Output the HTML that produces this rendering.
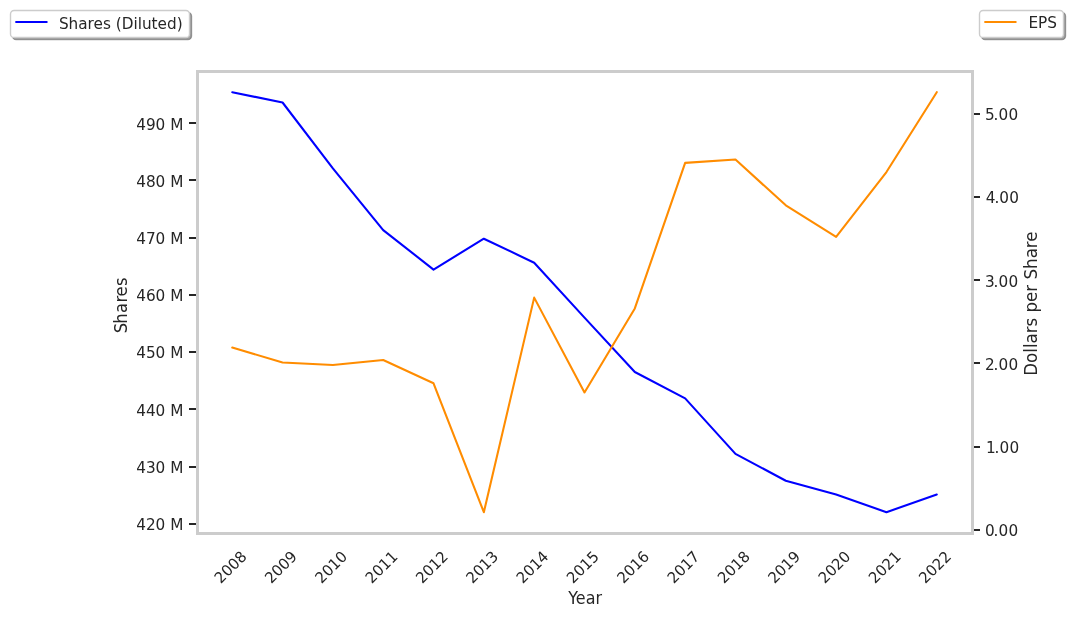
<!DOCTYPE html>
<html lang="en">
<head>
<meta charset="utf-8">
<title>Shares (Diluted) and EPS by Year</title>
<style>
html,body{margin:0;padding:0;background:#ffffff;}
body{width:1072px;height:618px;overflow:hidden;font-family:"DejaVu Sans","Liberation Sans",sans-serif;}
svg{display:block;}
</style>
</head>
<body>
<svg width="1072" height="618" viewBox="0 0 1072 618">
<rect x="0" y="0" width="1072" height="618" fill="#ffffff"/>
<g font-family="'DejaVu Sans', 'Liberation Sans', sans-serif" fill="#262626">
<g font-size="15.2778">
<text transform="translate(220.83 584.30) rotate(-45) scale(0.975 1)">2008</text>
<text transform="translate(271.15 584.30) rotate(-45) scale(0.975 1)">2009</text>
<text transform="translate(321.48 584.30) rotate(-45) scale(0.975 1)">2010</text>
<text transform="translate(371.80 584.30) rotate(-45) scale(0.975 1)">2011</text>
<text transform="translate(422.13 584.30) rotate(-45) scale(0.975 1)">2012</text>
<text transform="translate(472.45 584.30) rotate(-45) scale(0.975 1)">2013</text>
<text transform="translate(522.78 584.30) rotate(-45) scale(0.975 1)">2014</text>
<text transform="translate(573.10 584.30) rotate(-45) scale(0.975 1)">2015</text>
<text transform="translate(623.42 584.30) rotate(-45) scale(0.975 1)">2016</text>
<text transform="translate(673.75 584.30) rotate(-45) scale(0.975 1)">2017</text>
<text transform="translate(724.07 584.30) rotate(-45) scale(0.975 1)">2018</text>
<text transform="translate(774.40 584.30) rotate(-45) scale(0.975 1)">2019</text>
<text transform="translate(824.72 584.30) rotate(-45) scale(0.975 1)">2020</text>
<text transform="translate(875.05 584.30) rotate(-45) scale(0.975 1)">2021</text>
<text transform="translate(925.37 584.30) rotate(-45) scale(0.975 1)">2022</text>
</g>
<text transform="translate(585.10 604.00) scale(0.957 1.070)" font-size="16.6667" text-anchor="middle">Year</text>
<g font-size="15.2778" text-anchor="end">
<rect x="189" y="523" width="7" height="2"/>
<text x="183.35" y="530">420 M</text>
<rect x="189" y="466" width="7" height="2"/>
<text x="183.35" y="473">430 M</text>
<rect x="189" y="408" width="7" height="2"/>
<text x="183.35" y="416">440 M</text>
<rect x="189" y="351" width="7" height="2"/>
<text x="183.35" y="358">450 M</text>
<rect x="189" y="294" width="7" height="2"/>
<text x="183.35" y="301">460 M</text>
<rect x="189" y="237" width="7" height="2"/>
<text x="183.35" y="244">470 M</text>
<rect x="189" y="179" width="7" height="2"/>
<text x="183.35" y="187">480 M</text>
<rect x="189" y="122" width="7" height="2"/>
<text x="183.35" y="130">490 M</text>
</g>
<text transform="translate(127.10 305.30) rotate(-90) scale(0.985 1.070)" font-size="16.6667" text-anchor="middle" dx="0 -1 0.4 0.6 -0.4 0.4">Shares</text>
<g font-size="15.2778" text-anchor="start">
<rect x="974" y="529" width="6" height="2"/>
<text x="985.00" y="536" dx="0 -1.1 0 0.3">0.00</text>
<rect x="974" y="446" width="6" height="2"/>
<text x="986.00" y="453" dx="0 -1.1 0 0.3">1.00</text>
<rect x="974" y="362" width="6" height="2"/>
<text x="985.00" y="370" dx="0 -1.1 0 0.3">2.00</text>
<rect x="974" y="279" width="6" height="2"/>
<text x="985.00" y="287" dx="0 -1.1 0 0.3">3.00</text>
<rect x="974" y="196" width="6" height="2"/>
<text x="985.80" y="203" dx="0 -1.1 0 0.3">4.00</text>
<rect x="974" y="113" width="6" height="2"/>
<text x="985.00" y="120" dx="0 -1.1 0 0.3">5.00</text>
</g>
<text transform="translate(1037.05 303.60) rotate(-90) scale(1 1.070)" font-size="16.6667" text-anchor="middle">Dollars per Share</text>
</g>
<path d="M232.23 92.20 L282.55 102.50 L332.88 168.42 L383.20 230.10 L433.53 269.58 L483.85 238.69 L534.18 262.72 L584.50 317.65 L634.82 372.01 L685.15 398.33 L735.47 453.83 L785.80 480.73 L836.12 494.46 L886.45 512.20 L936.77 494.46" fill="none" stroke="#0000ff" stroke-width="2.083" stroke-linecap="round" stroke-linejoin="round"/>
<path d="M232.23 347.53 L282.55 362.50 L332.88 364.99 L383.20 360.00 L433.53 383.29 L483.85 512.20 L534.18 297.63 L584.50 392.44 L634.82 308.44 L685.15 162.89 L735.47 159.57 L785.80 205.31 L836.12 236.91 L886.45 172.04 L936.77 92.20" fill="none" stroke="#ff8c00" stroke-width="2.083" stroke-linecap="round" stroke-linejoin="round"/>
<g fill="#cccccc"><rect x="196" y="70" width="3" height="465"/><rect x="971" y="70" width="3" height="465"/><rect x="196" y="70" width="778" height="3"/><rect x="196" y="532" width="778" height="3"/></g>
<rect x="12.50" y="12.50" width="179.00" height="27.00" rx="3.60" fill="#4d4d4d" fill-opacity="0.5" stroke="#4d4d4d" stroke-opacity="0.5" stroke-width="1.39"/>
<rect x="10.50" y="10.50" width="179.00" height="27.00" rx="3.60" fill="#ffffff" stroke="#cccccc" stroke-width="1.39"/>
<path d="M16.10 22.00 H46.70" stroke="#0000ff" stroke-width="2.083" stroke-linecap="round" fill="none"/>
<text x="58.90" y="29.00" font-family="'DejaVu Sans', 'Liberation Sans', sans-serif" font-size="15.2778" fill="#262626">Shares (Diluted)</text>
<rect x="981.50" y="12.50" width="84.00" height="27.00" rx="3.60" fill="#4d4d4d" fill-opacity="0.5" stroke="#4d4d4d" stroke-opacity="0.5" stroke-width="1.39"/>
<rect x="979.50" y="10.50" width="84.00" height="27.00" rx="3.60" fill="#ffffff" stroke="#cccccc" stroke-width="1.39"/>
<path d="M985.10 22.00 H1015.70" stroke="#ff8c00" stroke-width="2.083" stroke-linecap="round" fill="none"/>
<text x="1028.40" y="28.00" font-family="'DejaVu Sans', 'Liberation Sans', sans-serif" font-size="15.2778" fill="#262626">EPS</text>
</svg>
</body>
</html>
